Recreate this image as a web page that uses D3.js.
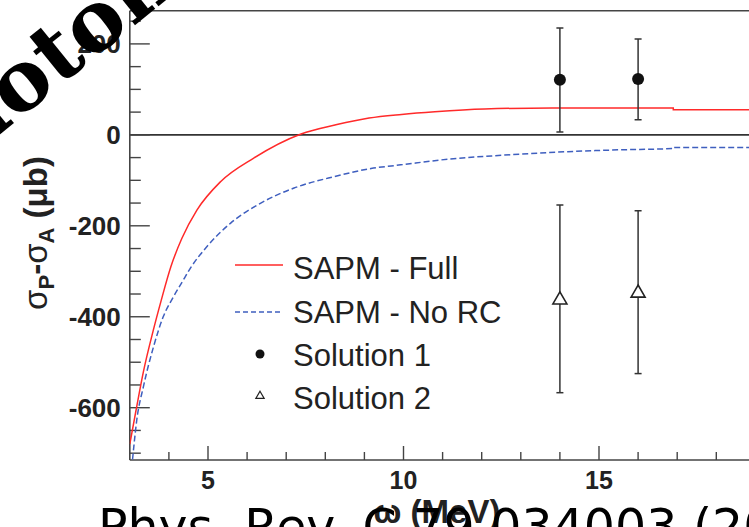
<!DOCTYPE html>
<html>
<head>
<meta charset="utf-8">
<script src="https://cdn.jsdelivr.net/npm/d3@7"></script>
<style>
  body { margin: 0; background: #fff; }
  svg { display: block; }
</style>
</head>
<body>
<div id="chart"></div>
<script>
// SAPM curves
var fullX = [3.0, 3.15, 3.35, 3.6, 3.8, 4.05, 4.33, 4.72, 5.32, 6.17, 7.38, 8.27, 9.12, 9.95, 10.8, 12.07, 13.8, 16.9, 16.9, 20];
var fullY = [-680, -610, -520, -430, -365, -290, -228, -165, -103, -51, 2, 22, 37, 45, 51, 57, 59, 59, 55, 55];
var noRcX = [3.07, 3.18, 3.35, 3.61, 3.86, 4.09, 4.33, 4.55, 4.98, 5.58, 6.35, 7.2, 8.22, 9.17, 9.93, 11.2, 12.5, 14.2, 15.5, 16.9, 16.9, 20];
var noRcY = [-714, -626, -553, -465, -399, -360, -325, -293, -245, -194, -150, -117, -92, -74, -66, -53, -45, -37, -33, -30, -28, -28];

// measured points: energy, value, error-bar top, error-bar bottom
var solX = [14, 16];
var sol1Y = [121, 123], sol1Hi = [235, 211], sol1Lo = [6, 33];
var sol2Y = [-363, -348], sol2Hi = [-154, -167], sol2Lo = [-567, -525];

var xTicks = [5, 10, 15];
var yTicks = [-600, -400, -200, 0, 200];
var legendLabels = ['SAPM - Full', 'SAPM - No RC', 'Solution 1', 'Solution 2'];

var W = 749, H = 527;
var plotLeft = 129.8, plotTop = 10.7, plotBottom = 460;
var axisCol = '#444', textCol = '#222';
var red = '#ff2a2a', blue = '#3f5fbf';

var svg = d3.select('#chart').append('svg')
  .attr('width', W).attr('height', H)
  .style('font-family', 'Liberation Sans, Arial, sans-serif');

var x = d3.scaleLinear().domain([3, 20]).range([plotLeft, plotLeft + 17 * 39.1]);
var y = d3.scaleLinear().domain([-715, 273]).range([plotBottom, plotTop]);

svg.append('clipPath').attr('id', 'plot')
  .append('rect').attr('x', plotLeft).attr('y', plotTop)
  .attr('width', W - plotLeft).attr('height', plotBottom - plotTop);

// frame and zero line
svg.append('line').attr('x1', plotLeft).attr('x2', W).attr('y1', plotTop).attr('y2', plotTop)
  .attr('stroke', axisCol).attr('stroke-width', 1.6);
svg.append('line').attr('x1', plotLeft).attr('x2', W).attr('y1', y(0)).attr('y2', y(0))
  .attr('stroke', '#333').attr('stroke-width', 1.6);

// x axis, ticks pointing into the plot
var xAxis = svg.append('g').attr('transform', 'translate(0,' + plotBottom + ')');
xAxis.append('line').attr('x1', plotLeft).attr('x2', W).attr('stroke', axisCol).attr('stroke-width', 1.6);
xAxis.selectAll('.minor').data(d3.range(4, 20)).enter().append('line')
  .attr('x1', function(d) { return x(d); }).attr('x2', function(d) { return x(d); })
  .attr('y1', 0).attr('y2', function(d) { return d % 5 === 0 ? -14 : -8; })
  .attr('stroke', axisCol).attr('stroke-width', 1.4);
xAxis.selectAll('.lab').data(xTicks).enter().append('text')
  .attr('x', function(d) { return x(d); }).attr('y', 29)
  .attr('text-anchor', 'middle').attr('fill', textCol)
  .style('font-size', '25px').style('font-weight', 'bold')
  .text(function(d) { return d; });

// y axis
var yAxis = svg.append('g').attr('transform', 'translate(' + plotLeft + ',0)');
yAxis.append('line').attr('y1', plotTop).attr('y2', plotBottom).attr('stroke', axisCol).attr('stroke-width', 1.6);
yAxis.selectAll('.minor').data(d3.range(-700, 251, 50)).enter().append('line')
  .attr('y1', function(d) { return y(d); }).attr('y2', function(d) { return y(d); })
  .attr('x1', 0).attr('x2', function(d) { return d % 200 === 0 ? 20 : 11; })
  .attr('stroke', axisCol).attr('stroke-width', 1.4);
yAxis.selectAll('.lab').data(yTicks).enter().append('text')
  .attr('x', -9).attr('y', function(d) { return y(d); })
  .attr('dy', '0.36em').attr('text-anchor', 'end').attr('fill', textCol)
  .style('font-size', '26px').style('font-weight', 'bold')
  .text(function(d) { return d; });

// axis titles
var yTitle = svg.append('text')
  .attr('transform', 'translate(47,233) rotate(-90)')
  .attr('text-anchor', 'middle').attr('fill', textCol)
  .style('font-size', '33px');
yTitle.append('tspan').text('σ');
yTitle.append('tspan').attr('dy', 7).style('font-size', '22px').style('font-weight', 'bold').text('P');
yTitle.append('tspan').attr('dy', -7).style('font-weight', 'bold').text('-');
yTitle.append('tspan').text('σ');
yTitle.append('tspan').attr('dy', 7).style('font-size', '22px').style('font-weight', 'bold').text('A');
yTitle.append('tspan').attr('dy', -7).style('font-weight', 'bold').text(' (μb)');

svg.append('text').attr('x', 437).attr('y', 523)
  .attr('text-anchor', 'middle').attr('fill', textCol)
  .style('font-size', '33px').style('font-weight', 'bold')
  .text('ω (MeV)');

// curves
var plot = svg.append('g').attr('clip-path', 'url(#plot)');
var line = d3.line()
  .x(function(d) { return x(d[0]); })
  .y(function(d) { return y(d[1]); })
  .curve(d3.curveMonotoneX);

plot.append('path').datum(d3.zip(noRcX, noRcY)).attr('d', line)
  .attr('fill', 'none').attr('stroke', blue).attr('stroke-width', 1.5)
  .attr('stroke-dasharray', '6,3');
plot.append('path').datum(d3.zip(fullX, fullY)).attr('d', line)
  .attr('fill', 'none').attr('stroke', red).attr('stroke-width', 1.5);

// error bars and markers
function errBars(hi, lo) {
  var g = plot.append('g').attr('stroke', '#333').attr('stroke-width', 1.5);
  solX.forEach(function(sx, i) {
    g.append('line').attr('x1', x(sx)).attr('x2', x(sx)).attr('y1', y(hi[i])).attr('y2', y(lo[i]));
    [hi[i], lo[i]].forEach(function(v) {
      g.append('line').attr('x1', x(sx) - 3.5).attr('x2', x(sx) + 3.5).attr('y1', y(v)).attr('y2', y(v));
    });
  });
}
errBars(sol1Hi, sol1Lo);
errBars(sol2Hi, sol2Lo);

var tri = d3.symbol().type(d3.symbolTriangle);
plot.selectAll('.s1').data(solX).enter().append('circle')
  .attr('cx', function(d) { return x(d); })
  .attr('cy', function(d, i) { return y(sol1Y[i]); })
  .attr('r', 6).attr('fill', '#111');
plot.selectAll('.s2').data(solX).enter().append('path')
  .attr('transform', function(d, i) { return 'translate(' + x(d) + ',' + y(sol2Y[i]) + ')'; })
  .attr('d', tri.size(85)).attr('fill', '#fff').attr('stroke', '#222').attr('stroke-width', 1.6);

// legend
var rowY = [268, 312, 355, 398];
var lg = svg.append('g');
lg.append('line').attr('x1', 235).attr('x2', 283).attr('y1', rowY[0] - 3).attr('y2', rowY[0] - 3)
  .attr('stroke', red).attr('stroke-width', 1.3);
lg.append('line').attr('x1', 235).attr('x2', 283).attr('y1', rowY[1]).attr('y2', rowY[1])
  .attr('stroke', blue).attr('stroke-width', 1.3).attr('stroke-dasharray', '5,3');
lg.append('circle').attr('cx', 260).attr('cy', rowY[2] - 1).attr('r', 4.5).attr('fill', '#111');
lg.append('path').attr('transform', 'translate(260,' + (rowY[3] - 2) + ')')
  .attr('d', tri.size(30)).attr('fill', '#fff').attr('stroke', '#222').attr('stroke-width', 1.2);
lg.selectAll('text').data(legendLabels).enter().append('text')
  .attr('x', 293).attr('y', function(d, i) { return rowY[i]; })
  .attr('dy', '0.36em').attr('fill', textCol)
  .style('font-size', '31px')
  .text(function(d) { return d; });

// overlaid captions
svg.append('text')
  .attr('transform', 'translate(-81,200) rotate(-39)')
  .style('font-family', 'DejaVu Serif').style('font-weight', 'bold')
  .style('font-size', '84px').attr('fill', '#000')
  .text('Photon');

svg.append('text').attr('x', 98).attr('y', 544)
  .style('font-family', 'DejaVu Sans').style('font-size', '49px').attr('fill', '#000')
  .text('Phys. Rev. C 79 034003 (2009)');
</script>
</body>
</html>
